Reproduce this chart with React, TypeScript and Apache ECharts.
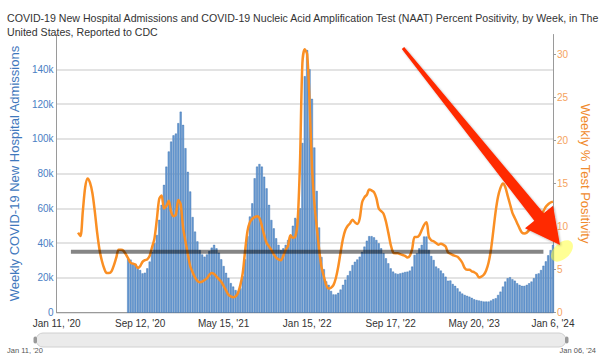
import React, { useEffect, useRef } from "react";
import * as echarts from "echarts";

const FONT = "'Liberation Sans', Arial, Helvetica, sans-serif";
const TITLE =
  "COVID-19 New Hospital Admissions and COVID-19 Nucleic Acid Amplification Test (NAAT) Percent Positivity, by Week, in The\nUnited States, Reported to CDC";
const LEFT_AXIS_NAME = "Weekly COVID-19 New Hospital Admissions";
const RIGHT_AXIS_NAME = "Weekly % Test Positivity";

// weekly categories: week 0 = Jan 11, 2020 ... week 208 = Jan 6, 2024
const FIRST_WEEK_UTC = Date.UTC(2020, 0, 11);
const WEEK_COUNT = 209;
const LABEL_WEEKS = [0, 35, 70, 105, 140, 175, 208];
const MONTHS = ["Jan", "Feb", "Mar", "Apr", "May", "Jun", "Jul", "Aug", "Sep", "Oct", "Nov", "Dec"];
const SLIDER_LABELS = ["Jan 11, '20", "Jan 06, '24"];

// Weekly new hospital admissions (thousands), from week 30 (Aug 8, 2020)
const ADMISSIONS_START = 30;
const admissionsK = [
  31, 30.5, 28.5, 28, 26.5, 24.5, 22.6, 23, 25.5, 29.4,
  35, 40, 44.7, 53.4, 62, 73.5, 84, 92.7, 98.4, 102,
  103, 109, 115.6, 108, 94.6, 81, 69.7, 55, 46.6, 41,
  36, 33.5, 32.2, 33.5, 35.5, 37.4, 39, 37, 34.5, 30.7,
  26.8, 22.9, 20, 17, 15, 13, 12.1, 14, 21, 30.7,
  44, 55.3, 62.9, 77.3, 84, 85.5, 84, 78.2, 71.5, 62,
  53.3, 48.5, 42.8, 39, 36, 37, 39, 41.8, 44, 50,
  54.5, 54, 60, 97.6, 136, 151, 140, 123, 95, 70,
  49, 32, 25, 18, 16, 12.5, 10.5, 10.5, 11.4, 13.3,
  16, 19, 21.5, 24, 27.4, 29.3, 30.6, 32.2, 35, 38,
  41.4, 44, 44, 43.3, 41.8, 39.9, 37, 34.2, 31.3, 28.4,
  25.5, 23.6, 22.6, 22.3, 22.6, 23, 23.4, 23.6, 24.2, 26.5,
  33.2, 34.2, 37, 39, 43.8, 43.8, 36.1, 32.6, 30.3, 26.5,
  25.5, 24.2, 22.6, 20.7, 18.4, 18.5, 16.5, 15.4, 14, 12.1,
  11, 10.2, 9.7, 9.2, 8.5, 7.7, 7.3, 7.0, 6.7, 6.4,
  6.4, 6.4, 7.0, 7.8, 8.3, 10.2, 12.1, 15, 17.9, 19.8,
  20.4, 19.2, 18.4, 16.9, 16, 15.4, 15.4, 16, 16.9, 17.9,
  19.8, 22.2, 22.6, 24.5, 27, 29.5, 33, 36, 39,
];

// Weekly NAAT percent positivity, from week 9 (Mar 14, 2020)
const POSITIVITY_START = 9;
const positivity = [
  9.3, 8.9, 11.8, 14.6, 15.6, 15.1, 13.9, 11.8, 9.3, 7.3,
  6.0, 5.1, 4.6, 4.6, 4.8, 5.5, 6.4, 7.3, 7.3, 7.2,
  6.8, 6.3, 5.8, 5.7, 5.6, 5.2, 5.4, 5.9, 6.1, 6.2,
  6.6, 7.6, 8.6, 10.8, 13.2, 13.6, 12.1, 12.4, 13.0, 11.7,
  11.2, 11.4, 13.1, 12.6, 9.9, 8.3, 6.8, 5.4, 4.7, 4.1,
  3.7, 3.55, 3.6, 3.8, 4.0, 4.4, 4.6, 4.5, 4.2, 3.9,
  3.6, 3.1, 2.6, 2.1, 1.9, 1.8, 1.9, 2.3, 3.2, 4.6,
  7.2, 9.5, 10.5, 10.9, 11.1, 11.2, 11.0, 10.1, 9.0, 8.1,
  7.7, 7.3, 6.8, 6.4, 6.2, 6.1, 6.6, 7.3, 7.8, 9.0,
  8.7, 8.8, 10.6, 17.5, 29.0, 30.6, 30.0, 24.5, 17.0, 12.8,
  10.0, 7.4, 5.3, 4.2, 3.2, 2.8, 2.9, 3.2, 4.0, 5.3,
  7.0, 8.6, 9.6, 10.1, 10.4, 10.8, 10.5, 10.3, 10.9, 12.8,
  13.4, 13.7, 14.3, 14.2, 14.0, 13.3, 12.1, 11.8, 11.5, 10.6,
  9.3, 7.9, 7.0, 6.9, 6.9, 6.8, 6.7, 6.6, 6.4, 6.6,
  7.4, 8.8, 8.8, 9.0, 9.6, 10.2, 10.5, 8.8, 8.4, 8.3,
  8.1, 7.9, 8.0, 7.9, 7.7, 7.0, 6.85, 6.7, 6.6, 6.5,
  6.2, 5.8, 5.2, 5.0, 5.0, 4.8, 4.7, 4.5, 4.1, 4.2,
  4.4, 4.9, 5.8, 7.3, 9.5, 11.8, 13.5, 14.5, 15.0, 14.6,
  13.6, 12.6, 11.6, 11.0, 10.4, 9.8, 9.3, 9.2, 9.3, 9.6,
  9.9, 10.2, 10.5, 10.9, 11.3, 11.8, 12.3, 12.6, 12.8, 12.9,
];

// Grey reference line annotation (thousands), week range
const THRESHOLD_K = 35;
const THRESHOLD_WEEKS = [6, 204];

function weekLabel(i: number): string {
  const d = new Date(FIRST_WEEK_UTC + i * 7 * 86400000);
  return `${MONTHS[d.getUTCMonth()]} ${d.getUTCDate()}, '${String(d.getUTCFullYear()).slice(2)}`;
}

const categories = Array.from({ length: WEEK_COUNT }, (_, i) => weekLabel(i));

function place(values: number[], start: number): (number | string)[] {
  return categories.map((_, i) => {
    const j = i - start;
    return j >= 0 && j < values.length ? values[j] : "-";
  });
}

export default function App() {
  const ref = useRef<HTMLDivElement>(null);

  useEffect(() => {
    if (!ref.current) return;
    const chart = echarts.init(ref.current, undefined, { renderer: "svg" });

    const thresholdData = categories.map((_, i) =>
      i === THRESHOLD_WEEKS[0] || i === THRESHOLD_WEEKS[1] ? THRESHOLD_K : "-"
    );

    const option: any = {
      animation: false,
      backgroundColor: "#ffffff",
      textStyle: { fontFamily: FONT },
      title: {
        text: TITLE,
        left: 2,
        top: 6,
        textStyle: {
          fontSize: 10.6,
          fontWeight: "normal",
          color: "#333333",
          fontFamily: FONT,
          lineHeight: 14,
        },
      },
      grid: { left: 36, right: 34, top: 34.5, bottom: 43.3, containLabel: false },
      xAxis: {
        type: "category",
        data: categories,
        boundaryGap: false,
        axisLine: { lineStyle: { color: "#9a9a9a", width: 1 } },
        axisTick: { show: false },
        axisLabel: {
          interval: (i: number) => LABEL_WEEKS.includes(i),
          color: "#333333",
          fontSize: 10,
          margin: 6,
          fontFamily: FONT,
          showMinLabel: true,
          showMaxLabel: true,
        },
        splitLine: { show: false },
      },
      yAxis: [
        {
          type: "value",
          min: 0,
          max: 160,
          interval: 20,
          name: LEFT_AXIS_NAME,
          nameLocation: "middle",
          nameGap: 18,
          nameTextStyle: { color: "#3f78bd", fontSize: 13, fontFamily: FONT },
          axisLine: { show: true, lineStyle: { color: "#9a9a9a" } },
          axisTick: { show: false },
          axisLabel: {
            color: "#4a80c4",
            fontSize: 10,
            margin: 3,
            showMaxLabel: false,
            fontFamily: FONT,
            formatter: (v: number) => (v === 0 ? "0" : `${v}k`),
          },
          splitLine: { show: true, showMaxLine: false, lineStyle: { color: "#dadada", width: 1.5 } },
        },
        {
          type: "value",
          min: 0,
          max: 32.31,
          interval: 5,
          position: "right",
          name: RIGHT_AXIS_NAME,
          nameLocation: "middle",
          nameRotate: -90,
          nameGap: 16,
          nameTextStyle: { color: "#f08a2c", fontSize: 13, fontFamily: FONT },
          axisLine: { show: true, lineStyle: { color: "#9a9a9a" } },
          axisTick: { show: true, length: 3, lineStyle: { color: "#9a9a9a" } },
          axisLabel: {
            color: "#f5a35e",
            fontSize: 10,
            margin: 4,
            showMaxLabel: false,
            fontFamily: FONT,
          },
          splitLine: { show: false },
        },
      ],
      series: [
        {
          name: "Admissions",
          type: "bar",
          yAxisIndex: 0,
          data: place(admissionsK, ADMISSIONS_START),
          barWidth: 2,
          itemStyle: { color: "#6a9bd3", borderColor: "#2f69ab", borderWidth: 0.4 },
          z: 2,
        },
        {
          name: "Positivity",
          type: "line",
          yAxisIndex: 1,
          data: place(positivity, POSITIVITY_START),
          showSymbol: false,
          smooth: 0.3,
          lineStyle: { color: "#fa8f24", width: 2.5 },
          itemStyle: { color: "#fa8f24" },
          z: 3,
        },
        {
          name: "Reference",
          type: "line",
          yAxisIndex: 0,
          data: thresholdData,
          connectNulls: true,
          showSymbol: false,
          symbol: "none",
          lineStyle: { color: "rgba(0,0,0,0.48)", width: 4 },
          z: 4,
        },
      ],
      graphic: [
        {
          type: "rect",
          shape: { x: 36, y: 333, width: 530, height: 14, r: 7 },
          style: { fill: "#ebebeb", stroke: "#d0d0d0", lineWidth: 1 },
          z: 1,
        },
        {
          type: "rect",
          shape: { x: 33.5, y: 336.5, width: 3.5, height: 7, r: 1.7 },
          style: { fill: "#9a9a9a" },
          z: 2,
        },
        {
          type: "rect",
          shape: { x: 565, y: 336.5, width: 3.5, height: 7, r: 1.7 },
          style: { fill: "#9a9a9a" },
          z: 2,
        },
        {
          type: "text",
          x: 7,
          y: 350,
          style: { text: SLIDER_LABELS[0], fill: "#555555", fontSize: 7.5, fontFamily: FONT, textVerticalAlign: "middle" },
        },
        {
          type: "text",
          x: 596,
          y: 350,
          style: {
            text: SLIDER_LABELS[1],
            fill: "#555555",
            fontSize: 7.5,
            fontFamily: FONT,
            textAlign: "right",
            textVerticalAlign: "middle",
          },
        },
        {
          type: "ellipse",
          x: 562,
          y: 251,
          rotation: 0.75,
          shape: { cx: 0, cy: 0, rx: 13, ry: 8 },
          style: { fill: "rgba(255,255,60,0.55)" },
          z: 100,
        },
        {
          type: "polygon",
          shape: {
            points: [
              [404.2, 47.1],
              [543.7, 213.2],
              [553, 205.7],
              [560, 245],
              [525, 228.3],
              [534.3, 220.8],
              [401.8, 48.9],
            ],
          },
          style: {
            fill: "#ff2a00",
            shadowBlur: 2,
            shadowColor: "rgba(0,0,0,0.3)",
            shadowOffsetX: 1,
            shadowOffsetY: 1,
          },
          z: 101,
        },
      ],
    };

    chart.setOption(option);
    return () => chart.dispose();
  }, []);

  return (
    <div
      ref={ref}
      style={{ position: "absolute", left: 0, top: 0, width: 600, height: 356 }}
    />
  );
}
